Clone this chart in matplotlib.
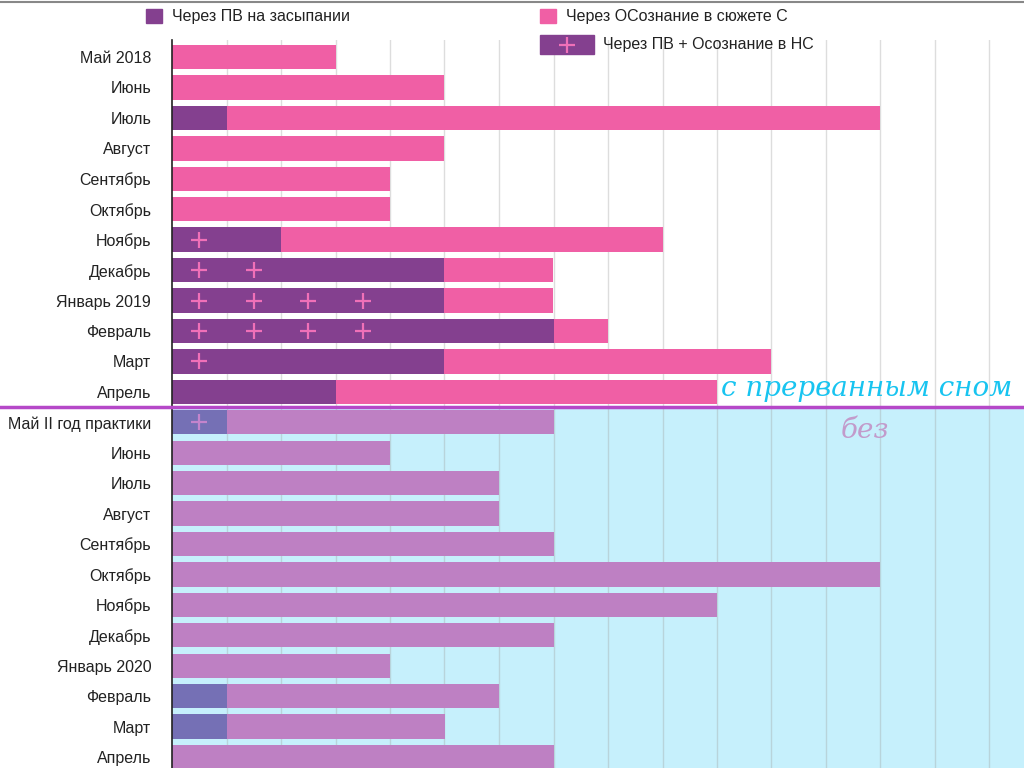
import numpy as np
import matplotlib
matplotlib.use('Agg')
import matplotlib.pyplot as plt
from matplotlib.lines import Line2D
from matplotlib.patches import Rectangle

plt.rcParams['font.family'] = ['Liberation Sans', 'DejaVu Sans']

# Months (top to bottom)
months = ['Май 2018', 'Июнь', 'Июль', 'Август', 'Сентябрь', 'Октябрь', 'Ноябрь',
          'Декабрь', 'Январь 2019', 'Февраль', 'Март', 'Апрель',
          'Май II год практики', 'Июнь', 'Июль', 'Август', 'Сентябрь', 'Октябрь',
          'Ноябрь', 'Декабрь', 'Январь 2020', 'Февраль', 'Март', 'Апрель']

# Через ПВ на засыпании
pv = [0, 0, 1, 0, 0, 0, 2, 5, 5, 7, 5, 3,
      1, 0, 0, 0, 0, 0, 0, 0, 0, 1, 1, 0]
# Через ОСознание в сюжете С
osozn = [3, 5, 12, 5, 4, 4, 7, 2, 2, 1, 6, 7,
         6, 4, 6, 6, 7, 13, 10, 7, 4, 5, 4, 7]
# Через ПВ + Осознание в НС (number of "+" marks)
plus = [0, 0, 0, 0, 0, 0, 1, 2, 4, 4, 1, 0,
        1, 0, 0, 0, 0, 0, 0, 0, 0, 0, 0, 0]

n_top = 12
purple = '#84408f'
pink = '#f05fa5'
purple_lo = '#7570b5'
pink_lo = '#be80c3'
plus_col = '#f070b8'
plus_lo = '#c484cc'

fig = plt.figure(figsize=(10.24, 7.68), dpi=100)
ax = fig.add_axes([172/1024, 0, 852/1024, 728/768])

y = np.arange(len(months))
c_pv = [purple if i < n_top else purple_lo for i in y]
c_os = [pink if i < n_top else pink_lo for i in y]

# light blue background for the second year
ax.axhspan(11.5, 30, color='#c6f0fc', zorder=0, lw=0)

# vertical gridlines
for gx in range(1, 16):
    ax.axvline(gx, color='#a0a0a0', alpha=0.35, lw=1, zorder=1)

ax.barh(y, pv, height=0.8, color=c_pv, zorder=2)
ax.barh(y, osozn, left=pv, height=0.8, color=c_os, zorder=2)

# plus marks
for i, k in enumerate(plus):
    if k > 0:
        xs = np.arange(k) + 0.5
        ax.plot(xs, [i]*k, ls='none', marker='+', ms=12, mew=1.6,
                color=plus_col if i < n_top else plus_lo, zorder=3)

ax.set_xlim(0, 852/54.5)
ax.set_ylim(23.36, -0.56)
ax.set_yticks(y)
ax.set_yticklabels(months, fontsize=11.5, color='#222222')
ax.tick_params(axis='y', length=0, pad=15)
ax.set_xticks([])
for s in ['top', 'right', 'bottom']:
    ax.spines[s].set_visible(False)
ax.spines['left'].set_color('#222222')
ax.spines['left'].set_linewidth(1.2)

# top border line
fig.add_artist(Line2D([0, 1], [1 - 1.5/768, 1 - 1.5/768], color='#888888', lw=1.5))

# separator line
fig.add_artist(Line2D([0, 1], [1 - 407/768, 1 - 407/768], color='#b548c8', lw=2.5))

# legend
def px(x, yy):
    return x/1024, 1 - yy/768

fig.add_artist(Rectangle(px(146, 23), 16/1024, 14/768, color=purple))
fig.text(*px(172, 16), 'Через ПВ на засыпании', fontsize=11.5, va='center', color='#222222')
fig.add_artist(Rectangle(px(540, 23), 16/1024, 14/768, color=pink))
fig.text(*px(566, 16), 'Через ОСознание в сюжете С', fontsize=11.5, va='center', color='#222222')
fig.add_artist(Rectangle(px(540, 54), 54/1024, 19/768, color=purple))
fig.add_artist(Line2D([px(567, 0)[0]], [px(0, 45)[1]], marker='+', ms=12, mew=1.6,
                      color=plus_col, ls='none'))
fig.text(*px(603, 45), 'Через ПВ + Осознание в НС', fontsize=11.5, va='center', color='#222222')

# annotations
fig.text(*px(1012, 389), 'с прерванным сном', fontsize=20, ha='right', va='center',
         color='#18c4f0', family=['DejaVu Serif'], style='italic')
fig.text(*px(865, 431), 'без', fontsize=20, ha='center', va='center',
         color='#c29bcb', family=['DejaVu Serif'], style='italic')

plt.savefig('out.png', dpi=100)
